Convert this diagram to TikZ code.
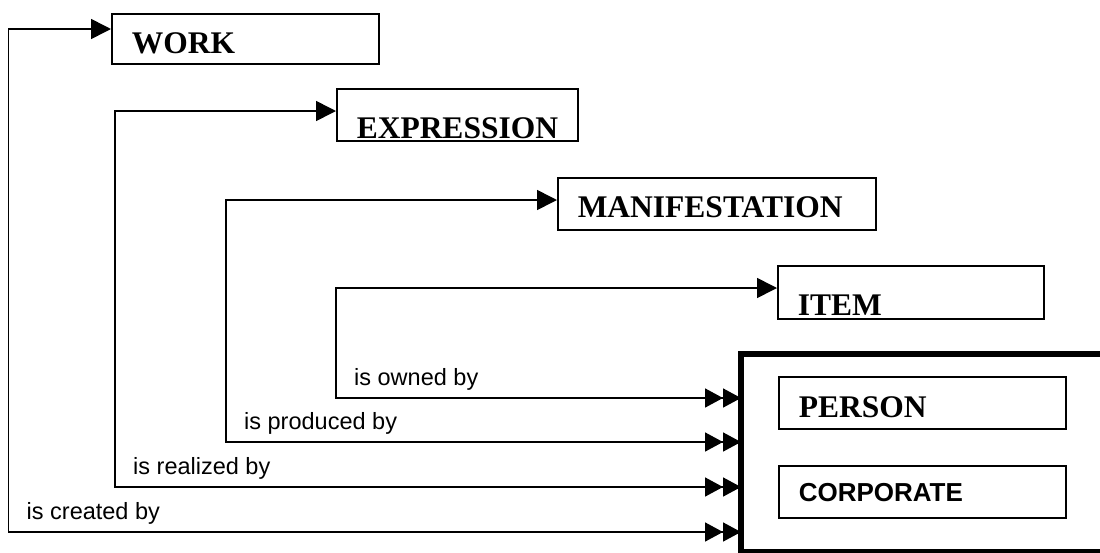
\documentclass[tikz,border=0pt]{standalone}
\usepackage{fontspec}
\setmainfont{Liberation Serif}
\setsansfont{Liberation Sans}
\usetikzlibrary{arrows.meta}

\tikzset{
	entity/.style={draw, line width=1.5pt, anchor=north west, inner xsep=20pt, inner ysep=0pt, align=left, font=\fontsize{31.5}{32}\selectfont\bfseries},
	agentbox/.style={line width=5.5pt},
	role/.style={anchor=base west, inner sep=0pt, font=\sffamily\fontsize{23.5}{24}\selectfont},
	relation/.style={line width=1.6pt, {Triangle[length=18pt,width=19pt,sep=0pt]Triangle[length=18pt,width=19pt,sep=0pt]}-{Triangle[length=20pt,width=20pt]}}
}

\begin{document}
\begin{tikzpicture}[x=1pt, y=-1pt]

\useasboundingbox (0,0) rectangle (1100,552);

% group 1 entities
\node[entity, text width=227pt, text height=40pt, text depth=10pt] (work)  at (111,13)  {WORK};
\node[entity, text width=201pt, text height=50pt, text depth=2pt]  (expr)  at (336,88)  {EXPRESSION};
\node[entity, text width=278pt, text height=40pt, text depth=12pt] (manif) at (557,177) {MANIFESTATION};
\node[entity, text width=226pt, text height=50pt, text depth=3pt]  (item)  at (777,265) {ITEM};

% group 2 entities
\draw[agentbox] (1100,354) -- (741,354) -- (741,552) -- (1100,552);

\node[entity, text width=247pt, text height=41pt, text depth=11pt] (person) at (778,376) {PERSON};
\node[entity, text width=247pt, text height=36pt, text depth=16pt,
	font=\sffamily\fontsize{26}{26}\selectfont\bfseries] (corp) at (778,465) {CORPORATE};

% relationships
\foreach \ent/\vx/\ty/\vy/\lab in {work/8.5/29/532/is created by, expr/115/111/487/is realized by, manif/226/200/442/is produced by, item/336/288/398/is owned by}
{
	\coordinate (in\ent)  at (741,\vy);
	\coordinate (top\ent) at (\vx,\ty);
	\draw[relation] (in\ent) -| (top\ent) -- (top\ent -| \ent.west);
	\node[role] (lab\ent) at (\vx+18,\vy-13) {\lab};
}

\end{tikzpicture}
\end{document}
